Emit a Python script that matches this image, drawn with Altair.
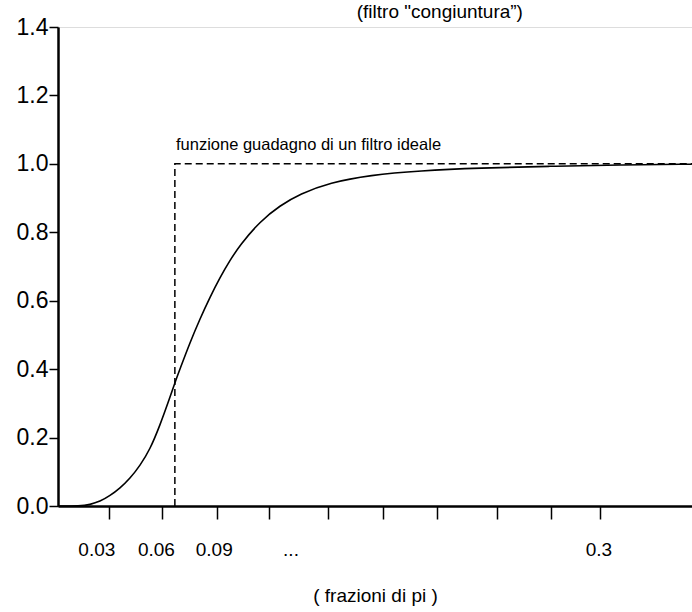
import altair as alt
import pandas as pd

# gain curve, x in fractions of pi
curve_x = [0.0, 0.0122, 0.0177, 0.0232, 0.0288, 0.0343, 0.0398, 0.0454, 0.0509, 0.0564,
           0.0620, 0.0647, 0.0675, 0.0730, 0.0786, 0.0841, 0.0897, 0.0952, 0.1007,
           0.1118, 0.1229, 0.1339, 0.1505, 0.1727, 0.2003, 0.2335, 0.2723, 0.3110, 0.3509]
curve_y = [0.0, 0.0, 0.004, 0.013, 0.03, 0.052, 0.08, 0.118, 0.165, 0.235,
           0.318, 0.36, 0.40, 0.477, 0.547, 0.61, 0.668, 0.718, 0.762,
           0.832, 0.878, 0.912, 0.945, 0.967, 0.98, 0.988, 0.993, 0.997, 0.999]

# ideal filter gain (dashed)
ideal_x = [0.0647, 0.0647, 0.351]
ideal_y = [0.0, 1.0, 1.0]

x_ticks = [0.0282, 0.0576, 0.088, 0.1168, 0.1494, 0.1799, 0.2097, 0.2429, 0.2728, 0.2999]
x_labels = ["0.03", "0.06", "0.09", "...", "0.3"]
x_label_pos = [0.0215, 0.0545, 0.0865, 0.129, 0.2995]
y_ticks = [0.0, 0.2, 0.4, 0.6, 0.8, 1.0, 1.2, 1.4]

title_text = "(filtro \"congiuntura\u201d)"
annot_text = "funzione guadagno di un filtro ideale"
x_title = "( frazioni di pi )"

FONT = "Liberation Sans, Arial, sans-serif"

xs = alt.Scale(domain=[0, 0.351], nice=False, zero=False)
ys = alt.Scale(domain=[0, 1.4], nice=False)

curve_df = pd.DataFrame({"x": curve_x, "y": curve_y})
ideal_df = pd.DataFrame({"x": ideal_x, "y": ideal_y, "o": [0, 1, 2]})
lab_df = pd.DataFrame({"x": x_label_pos, "y": [-0.128] * len(x_labels), "t": x_labels})
ttl_df = pd.DataFrame({"x": [0.2114], "y": [1.443], "t": [title_text]})
ann_df = pd.DataFrame({"x": [0.0653], "y": [1.055], "t": [annot_text]})

xaxis = alt.Axis(values=x_ticks, labels=False, grid=False, tickSize=13, tickWidth=1.5,
                 tickColor="black", domainColor="black", domainWidth=2.5,
                 title=x_title, titleFont=FONT, titleFontSize=19, titleFontWeight="normal",
                 titlePadding=67, titleColor="black")
yaxis = alt.Axis(values=y_ticks, format=".1f", grid=False, tickSize=9, tickWidth=1.5,
                 tickColor="black", domainColor="black", domainWidth=2.5,
                 labelFont=FONT, labelFontSize=23, labelColor="black", labelPadding=1,
                 title=None)

base = alt.Chart(curve_df).mark_line(color="black", strokeWidth=1.6, clip=False,
                                     interpolate="basis").encode(
    x=alt.X("x:Q", scale=xs, axis=xaxis),
    y=alt.Y("y:Q", scale=ys, axis=yaxis),
)

ideal = alt.Chart(ideal_df).mark_line(color="black", strokeWidth=1.5, strokeDash=[7, 4]).encode(
    x=alt.X("x:Q", scale=xs), y=alt.Y("y:Q", scale=ys), order="o:Q")

labels = alt.Chart(lab_df).mark_text(font=FONT, fontSize=19, color="black",
                                     baseline="middle", align="center", clip=False).encode(
    x=alt.X("x:Q", scale=xs), y=alt.Y("y:Q", scale=ys), text="t:N")

ttl = alt.Chart(ttl_df).mark_text(font=FONT, fontSize=19, color="black",
                                  baseline="middle", align="center").encode(
    x=alt.X("x:Q", scale=xs), y=alt.Y("y:Q", scale=ys), text="t:N")

ann = alt.Chart(ann_df).mark_text(font=FONT, fontSize=16.5, color="black",
                                  baseline="middle", align="left").encode(
    x=alt.X("x:Q", scale=xs), y=alt.Y("y:Q", scale=ys), text="t:N")

chart = alt.layer(base, ideal, labels, ttl, ann).properties(
    width=634, height=479,
    padding={"left": 58, "top": 27, "right": 0, "bottom": 106},
    autosize=alt.AutoSizeParams(type="none"),
).configure_view(stroke=None).configure(background="white")

chart.save("out.html", embed_options={"renderer": "svg", "actions": False})
